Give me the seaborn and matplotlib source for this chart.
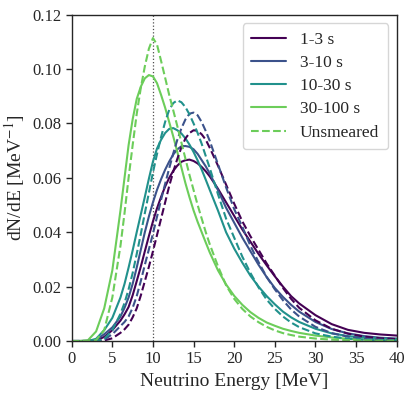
import numpy as np
import matplotlib
matplotlib.use("Agg")
import matplotlib.pyplot as plt
import seaborn as sns

# energy grid (MeV) and spectra
energy = ([0, 1, 2, 3, 4, 5, 6]
          + [6.5 + 0.5 * i for i in range(22)]
          + list(range(18, 29)) + [30, 32, 34, 36, 38, 40])

# smeared spectra
smeared_1_3 = [0, 0, 0, 0.0002, 0.0015, 0.0040, 0.0075,
               0.0098, 0.0125, 0.0168, 0.022, 0.0273, 0.033, 0.0386, 0.044, 0.0488, 0.053,
               0.0568, 0.060, 0.0626, 0.0645, 0.0659, 0.0665, 0.0667, 0.0662, 0.0653, 0.064,
               0.0624, 0.0605,
               0.0560, 0.0510, 0.0460, 0.0410, 0.0365, 0.0320, 0.0278, 0.0238, 0.0200, 0.0165,
               0.0138,
               0.0095, 0.0062, 0.0041, 0.0030, 0.0024, 0.0020]
smeared_3_10 = [0, 0, 0, 0.0004, 0.0025, 0.0050, 0.0090,
                0.0122, 0.016, 0.021, 0.027, 0.0335, 0.040, 0.0458, 0.051, 0.0556, 0.0595,
                0.063, 0.066, 0.0686, 0.0705, 0.0716, 0.0717, 0.0714, 0.0705, 0.0688, 0.0665,
                0.0642, 0.0615,
                0.0555, 0.0490, 0.0435, 0.0380, 0.0330, 0.0280, 0.0235, 0.0195, 0.0162, 0.0133,
                0.0108,
                0.0070, 0.0044, 0.0028, 0.0018, 0.0012, 0.0009]
smeared_10_30 = [0, 0, 0, 0.0008, 0.004, 0.0085, 0.016,
                 0.021, 0.027, 0.0333, 0.040, 0.0465, 0.053, 0.0597, 0.066, 0.0708, 0.074,
                 0.0765, 0.078, 0.0783, 0.0775, 0.0763, 0.0745, 0.0722, 0.0695, 0.0664, 0.063,
                 0.0593, 0.0555,
                 0.048, 0.040, 0.034, 0.0288, 0.024, 0.0200, 0.0165, 0.0135, 0.0108, 0.0087,
                 0.0070,
                 0.0045, 0.0028, 0.0018, 0.0012, 0.0009, 0.0007]
smeared_30_100 = [0, 0, 0.0003, 0.0035, 0.012, 0.026, 0.048,
                  0.060, 0.072, 0.0815, 0.089, 0.0935, 0.0966, 0.0978, 0.0973, 0.0948, 0.0905,
                  0.0858, 0.0805, 0.0752, 0.0695, 0.0638, 0.058, 0.0528, 0.048, 0.0438, 0.040,
                  0.0362, 0.0325,
                  0.026, 0.0208, 0.0166, 0.0133, 0.0106, 0.0085, 0.0068, 0.0056, 0.0045, 0.0037,
                  0.0030,
                  0.0020, 0.0013, 0.0008, 0.0005, 0.0003, 0.0002]

# unsmeared spectra
unsmeared_1_3 = [0, 0, 0, 0, 0.0002, 0.0010, 0.0030,
                 0.0043, 0.0060, 0.0087, 0.0120, 0.0167, 0.0220, 0.0273, 0.0330, 0.039, 0.045,
                 0.051, 0.057, 0.0623, 0.067, 0.0712, 0.0745, 0.0765, 0.0775, 0.0773, 0.076,
                 0.074, 0.071,
                 0.0645, 0.0575, 0.0505, 0.0440, 0.0385, 0.0335, 0.0285, 0.0240, 0.0195, 0.0155,
                 0.0122,
                 0.0076, 0.0045, 0.0027, 0.0016, 0.0010, 0.0007]
unsmeared_3_10 = [0, 0, 0, 0, 0.0005, 0.0025, 0.0055,
                  0.0070, 0.0090, 0.0122, 0.0165, 0.022, 0.028, 0.0337, 0.0395, 0.0457, 0.052,
                  0.0578, 0.0635, 0.069, 0.074, 0.0782, 0.0815, 0.0836, 0.084, 0.083, 0.0805,
                  0.0772, 0.0735,
                  0.0650, 0.0565, 0.0485, 0.0420, 0.0350, 0.0290, 0.0235, 0.0190, 0.0150, 0.0116,
                  0.0090,
                  0.0052, 0.0029, 0.0016, 0.0009, 0.0005, 0.0003]
unsmeared_10_30 = [0, 0, 0, 0, 0.0008, 0.004, 0.010,
                   0.014, 0.019, 0.025, 0.032, 0.0393, 0.047, 0.0545, 0.062, 0.0688, 0.075,
                   0.0806, 0.085, 0.0875, 0.0885, 0.0878, 0.086, 0.0833, 0.080, 0.0765, 0.0725,
                   0.068, 0.0635,
                   0.054, 0.045, 0.038, 0.031, 0.025, 0.0197, 0.0152, 0.0118, 0.0090, 0.0068,
                   0.0051,
                   0.0028, 0.0016, 0.0009, 0.0005, 0.0003, 0.0002]
unsmeared_30_100 = [0, 0, 0, 0.0003, 0.004, 0.016, 0.035,
                    0.047, 0.060, 0.072, 0.0835, 0.0930, 0.1010, 0.1075, 0.1114, 0.1090, 0.1030,
                    0.0968, 0.0905, 0.0848, 0.079, 0.073, 0.067, 0.061, 0.0555, 0.050, 0.045,
                    0.040, 0.0355,
                    0.0275, 0.0205, 0.0155, 0.0118, 0.0090, 0.0069, 0.0052, 0.0039, 0.0029, 0.0022,
                    0.0016,
                    0.0009, 0.0005, 0.0003, 0.0002, 0.0001, 0.0001]

labels = ["1-3 s", "3-10 s", "10-30 s", "30-100 s"]
smeared = [smeared_1_3, smeared_3_10, smeared_10_30, smeared_30_100]
unsmeared = [unsmeared_1_3, unsmeared_3_10, unsmeared_10_30, unsmeared_30_100]
colors = ["#440154", "#3b528b", "#21918c", "#6ccd5a"]

sns.set_style("ticks")
plt.rcParams["font.family"] = ["Liberation Serif", "DejaVu Serif"]
plt.rcParams["mathtext.fontset"] = "stix"

fig = plt.figure(figsize=(4.15, 3.95), dpi=100)
ax = fig.add_axes([0.1728, 0.1367, 0.7831, 0.8261])

for lab, vals, col in zip(labels, smeared, colors):
    sns.lineplot(x=energy, y=vals, color=col, lw=1.5, label=lab, ax=ax)

for i, (vals, col) in enumerate(zip(unsmeared, colors)):
    lab = "Unsmeared" if i == 3 else "_nolegend_"
    sns.lineplot(x=energy, y=vals, color=col, lw=1.5, ls="--", label=lab, ax=ax)

# reference line at 10 MeV
ax.axvline(10, color="0.3", ls=":", lw=0.9, zorder=0)

ax.set_xlim(0, 40)
ax.set_ylim(0, 0.12)
ax.set_xticks(range(0, 41, 5))
ax.set_yticks(np.arange(0, 0.121, 0.02))
ax.yaxis.set_major_formatter(matplotlib.ticker.FormatStrFormatter("%.2f"))
ax.tick_params(direction="out", length=4, width=1, labelsize=12)
for s in ax.spines.values():
    s.set_linewidth(1)

ax.set_xlabel("Neutrino Energy [MeV]", fontsize=14)
ax.set_ylabel("dN/dE [MeV$^{-1}$]", fontsize=14)
ax.legend(loc="upper right", fontsize=12.5, frameon=True, handlelength=2.0,
          borderpad=0.5, labelspacing=0.4)

fig.savefig("out.png", dpi=100)
plt.close("all")
